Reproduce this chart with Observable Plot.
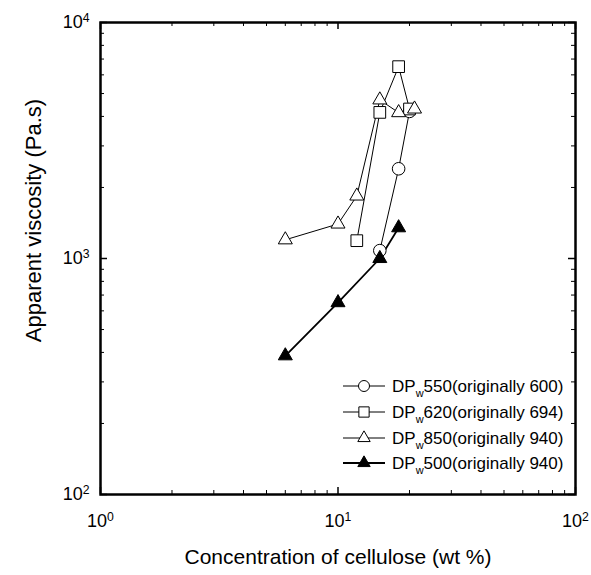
<!DOCTYPE html>
<html><head><meta charset="utf-8">
<script src="https://cdn.jsdelivr.net/npm/d3@7"></script>
<script src="https://cdn.jsdelivr.net/npm/@observablehq/plot@0.6"></script>
<style>
body{margin:0;background:#fff;}
#wrap{position:relative;width:591px;height:575px;font-family:"Liberation Sans",Arial,sans-serif;}
#legend{position:absolute;left:0;top:0;}
</style></head><body><div id="wrap"></div>
<script>
// ---- data ----
const dp550X = [15, 18, 20];
const dp550Y = [1080, 2400, 4200];
const dp620X = [12, 15, 18, 20];
const dp620Y = [1190, 4160, 6500, 4300];
const dp850X = [6, 10, 12, 15, 18, 21];
const dp850Y = [1200, 1400, 1840, 4700, 4150, 4300];
const dp500X = [6, 10, 15, 18];
const dp500Y = [387, 650, 1000, 1350];
const seriesNums = ["550", "620", "850", "500"];
const seriesOrig = ["(originally 600)", "(originally 694)", "(originally 940)", "(originally 940)"];
const xMajor = [1, 10, 100];
const xMinor = [2, 3, 4, 5, 6, 7, 8, 9, 20, 30, 40, 50, 60, 70, 80, 90];
const yMajor = [100, 1000, 10000];
const yMinor = [200, 300, 400, 500, 600, 700, 800, 900, 2000, 3000, 4000, 5000, 6000, 7000, 8000, 9000];
const xTitle = "Concentration of cellulose (wt %)";
const yTitle = "Apparent viscosity (Pa.s)";

const rows = (xs, ys) => xs.map((x, i) => ({x, y: ys[i]}));
const s550 = rows(dp550X, dp550Y), s620 = rows(dp620X, dp620Y), s850 = rows(dp850X, dp850Y), s500 = rows(dp500X, dp500Y);

const W = 591, H = 575, mL = 100, mR = 16, mT = 22, mB = 81;
const iW = W - mL - mR, iH = H - mT - mB;
const MAJ = 7, MIN = 4;
const expFmt = d => "10|" + Math.round(Math.log10(d));

const chart = Plot.plot({
  width: W, height: H, marginLeft: mL, marginRight: mR, marginTop: mT, marginBottom: mB,
  style: {fontFamily: '"Liberation Sans", Arial, sans-serif', background: "white", color: "black"},
  x: {type: "log", domain: [1, 100]},
  y: {type: "log", domain: [100, 10000]},
  marks: [
    // inward ticks on all four sides
    Plot.tickX(xMajor, {x: d => d, insetTop: iH - MAJ, stroke: "black", strokeWidth: 1.5}),
    Plot.tickX(xMajor, {x: d => d, insetBottom: iH - MAJ, stroke: "black", strokeWidth: 1.5}),
    Plot.tickX(xMinor, {x: d => d, insetTop: iH - MIN, stroke: "black", strokeWidth: 1}),
    Plot.tickX(xMinor, {x: d => d, insetBottom: iH - MIN, stroke: "black", strokeWidth: 1}),
    Plot.tickY(yMajor, {y: d => d, insetRight: iW - MAJ, stroke: "black", strokeWidth: 1.5}),
    Plot.tickY(yMajor, {y: d => d, insetLeft: iW - MAJ, stroke: "black", strokeWidth: 1.5}),
    Plot.tickY(yMinor, {y: d => d, insetRight: iW - MIN, stroke: "black", strokeWidth: 1}),
    Plot.tickY(yMinor, {y: d => d, insetLeft: iW - MIN, stroke: "black", strokeWidth: 1}),
    Plot.frame({stroke: "black", strokeWidth: 2.5}),
    Plot.axisX(xMajor, {tickSize: 0, tickPadding: 20, tickFormat: expFmt, fontSize: 18, label: null}),
    Plot.axisY(yMajor, {tickSize: 0, tickPadding: 11, tickFormat: expFmt, fontSize: 18, label: null}),
    Plot.text([xTitle], {frameAnchor: "bottom", dy: 69, fontSize: 21, text: d => d}),
    Plot.text([yTitle], {frameAnchor: "left", textAnchor: "middle", rotate: -90, dx: -67, dy: -38, fontSize: 22, text: d => d}),
    // series lines
    Plot.line(s850, {x: "x", y: "y", stroke: "black", strokeWidth: 1}),
    Plot.line(s620, {x: "x", y: "y", stroke: "black", strokeWidth: 1}),
    Plot.line(s550, {x: "x", y: "y", stroke: "black", strokeWidth: 1}),
    Plot.line(s500, {x: "x", y: "y", stroke: "black", strokeWidth: 1.8}),
    // markers
    Plot.dot(s550, {x: "x", y: "y", symbol: "circle", r: 6.3, fill: "white", stroke: "black", strokeWidth: 1}),
    Plot.dot(s620, {x: "x", y: "y", symbol: "square", r: 6.6, fill: "white", stroke: "black", strokeWidth: 1}),
    Plot.dot(s850, {x: "x", y: "y", symbol: "triangle", r: 5.2, fill: "white", stroke: "black", strokeWidth: 1}),
    Plot.dot(s500, {x: "x", y: "y", symbol: "triangle", r: 5.2, fill: "black", stroke: "black", strokeWidth: 1})
  ]
});

// superscript exponents in tick labels
d3.select(chart).selectAll('g[aria-label$="tick label"] text').each(function() {
  const t = this.textContent;
  if (!t.includes("|")) return;
  const [base, exp] = t.split("|");
  const sel = d3.select(this);
  sel.text(base);
  sel.append("tspan").attr("dy", "-0.5em").attr("font-size", "0.68em").text(exp);
});

document.getElementById("wrap").appendChild(chart);

// legend (inside the plot area, lower right)
const lg = d3.select("#wrap").append("svg").attr("id", "legend").attr("width", W).attr("height", H);
const symbols = [
  {type: d3.symbolCircle, size: Math.PI * 5.5 * 5.5, fill: "white"},
  {type: d3.symbolSquare, size: Math.PI * 5.8 * 5.8, fill: "white"},
  {type: d3.symbolTriangle, size: Math.PI * 4.6 * 4.6, fill: "white"},
  {type: d3.symbolTriangle, size: Math.PI * 4.6 * 4.6, fill: "black"}
];
const rowY = [386, 412, 438, 463];
seriesNums.forEach((num, i) => {
  const g = lg.append("g").attr("transform", `translate(0,${rowY[i]})`);
  g.append("line").attr("x1", 343).attr("x2", 385).attr("y1", 0).attr("y2", 0)
    .attr("stroke", "black").attr("stroke-width", i === 3 ? 1.8 : 1);
  g.append("path").attr("transform", "translate(364,0)")
    .attr("d", d3.symbol(symbols[i].type, symbols[i].size)())
    .attr("fill", symbols[i].fill).attr("stroke", "black").attr("stroke-width", 1);
  const t = g.append("text").attr("x", 392).attr("y", 6)
    .attr("font-family", '"Liberation Sans", Arial, sans-serif').attr("font-size", 17).attr("fill", "black");
  t.append("tspan").text("DP");
  t.append("tspan").attr("font-size", 11).attr("dy", 5).text("w");
  t.append("tspan").attr("dy", -5).text(num + seriesOrig[i]);
});
</script>
</body></html>
